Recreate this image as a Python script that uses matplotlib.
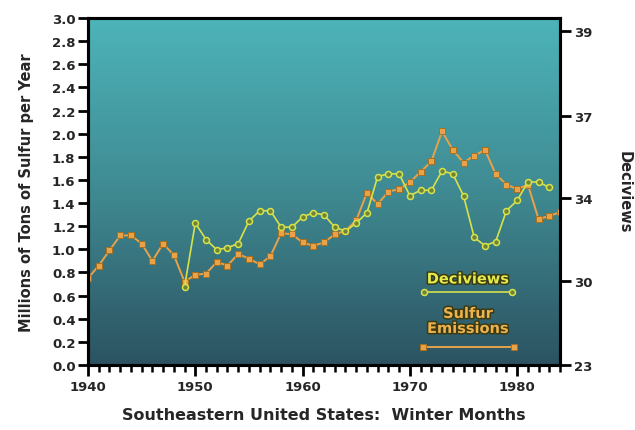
import numpy as np
import matplotlib
matplotlib.use("Agg")
import matplotlib.pyplot as plt
import matplotlib.patheffects as pe
from matplotlib.colors import LinearSegmentedColormap

# winter sulfur emissions, southeastern US (millions of tons)
sulfur_years = list(range(1940, 1985))
sulfur = [0.75, 0.86, 0.99, 1.12, 1.12, 1.05, 0.90, 1.05, 0.95, 0.72,
          0.78, 0.79, 0.89, 0.86, 0.96, 0.92, 0.87, 0.94, 1.14, 1.13,
          1.06, 1.03, 1.06, 1.13, 1.16, 1.25, 1.49, 1.39, 1.50, 1.52,
          1.58, 1.67, 1.76, 2.02, 1.86, 1.75, 1.81, 1.86, 1.65, 1.56,
          1.52, 1.56, 1.26, 1.29, 1.32]

# winter haze (deciviews)
dv_years = list(range(1949, 1984))
deciviews = [29.5, 32.8, 32.0, 31.5, 31.6, 31.8, 32.9, 33.4, 33.4, 32.6,
             32.6, 33.1, 33.3, 33.2, 32.6, 32.4, 32.8, 33.3, 34.8, 34.9,
             34.9, 34.1, 34.3, 34.3, 35.0, 34.9, 34.1, 32.1, 31.7, 31.9,
             33.4, 33.9, 34.6, 34.6, 34.4]

dv_ticks = [23, 30, 34, 37, 39]
# where each deciview tick sits against the sulfur scale
dv_knots = [23, 30, 34, 37, 39, 41]
pos_knots = [0.0, 0.73, 1.44, 2.15, 2.89, 3.63]


def fwd(v):
    return np.interp(v, dv_knots, pos_knots)


def inv(p):
    return np.interp(p, pos_knots, dv_knots)


txt = '#262626'
orange = '#E8A24A'
orange_edge = '#A8701E'
yellow = '#D6E24C'

fig = plt.figure(figsize=(6.35, 4.31), dpi=100)
ax = fig.add_axes([0.1386, 0.1508, 0.7434, 0.8051])

bg = LinearSegmentedColormap.from_list('bg', ['#2C5361', '#3F8A92', '#4DB4B9'])
grad = np.linspace(0, 1, 256).reshape(-1, 1)
ax.imshow(grad, cmap=bg, origin='lower', aspect='auto',
          extent=[0, 1, 0, 1], transform=ax.transAxes, zorder=0)

ax.plot(sulfur_years, sulfur, color=orange, lw=1.4, marker='s', ms=4.6,
        mfc=orange, mec=orange_edge, mew=0.7, zorder=3)

ax.set_xlim(1940, 1984)
ax.set_ylim(0, 3.0)
ax.set_xticks([1940, 1950, 1960, 1970, 1980])
ax.set_xticks(range(1940, 1985), minor=True)
ax.set_yticks(np.arange(0, 3.01, 0.2))
ax.set_yticklabels(['%.1f' % v for v in np.arange(0, 3.01, 0.2)])

ax2 = ax.twinx()
ax2.set_yscale('function', functions=(fwd, inv))
ax2.set_ylim(23, inv(3.0))
ax2.set_yticks(dv_ticks)
ax2.set_yticklabels([str(t) for t in dv_ticks])
ax2.yaxis.set_minor_locator(matplotlib.ticker.NullLocator())
ax2.plot(dv_years, deciviews, color=yellow, lw=1.2, marker='o', ms=4.3,
         mfc='#6E8436', mec=yellow, mew=1.1, zorder=4)

for a in (ax, ax2):
    for s in a.spines.values():
        s.set_linewidth(2.2)
        s.set_color('black')

ax.tick_params(axis='x', which='major', length=8, width=2, direction='out',
               labelsize=9.5, labelcolor=txt, pad=3)
ax.tick_params(axis='x', which='minor', length=5, width=1.8, direction='out')
ax.tick_params(axis='y', which='major', length=7, width=2, direction='out',
               labelsize=9.5, labelcolor=txt, pad=2)
ax2.tick_params(axis='y', length=8, width=2, direction='out',
                labelsize=9.5, labelcolor=txt, pad=2)
for lab in ax.get_xticklabels() + ax.get_yticklabels() + ax2.get_yticklabels():
    lab.set_fontweight('bold')

ax.set_xlabel('Southeastern United States:  Winter Months', fontsize=11.5,
              fontweight='bold', color=txt, labelpad=10)
ax.set_ylabel('Millions of Tons of Sulfur per Year', fontsize=10.5,
              fontweight='bold', color=txt, labelpad=13)
ax2.set_ylabel('Deciviews', fontsize=10.5, fontweight='bold', color=txt,
               rotation=-90, labelpad=28)

# hand-drawn key in the lower right
shadow = [pe.withStroke(linewidth=2.2, foreground='#3A3A14')]
ax.text(0.805, 0.248, 'Deciviews', transform=ax.transAxes, ha='center',
        va='center', fontsize=10.5, fontweight='bold', color='#E4EC4A',
        path_effects=shadow, zorder=5)
ax.plot([0.712, 0.898], [0.210, 0.210], transform=ax.transAxes, color=yellow,
        lw=1.2, marker='o', ms=4.3, mfc='#6E8436', mec=yellow, mew=1.1, zorder=5)
ax.text(0.805, 0.127, 'Sulfur\nEmissions', transform=ax.transAxes,
        ha='center', va='center', fontsize=10.5, fontweight='bold',
        color='#EDB24E', linespacing=1.0, path_effects=shadow, zorder=5)
ax.plot([0.71, 0.903], [0.052, 0.052], transform=ax.transAxes, color=orange,
        lw=1.4, marker='s', ms=4.6, mfc=orange, mec=orange_edge, mew=0.7,
        zorder=5)

fig.savefig('out.png', dpi=100)
